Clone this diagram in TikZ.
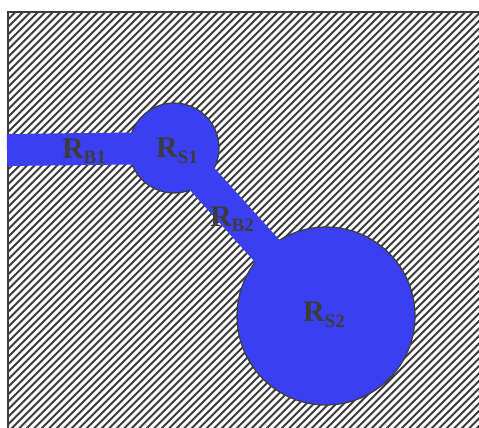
\documentclass[tikz,border=0pt]{standalone}
\usepackage{fontspec}
\setmainfont{Liberation Serif}
\definecolor{bluefill}{RGB}{58,64,242}
\definecolor{ink}{RGB}{60,60,60}
\tikzset{
  hatch/.style={line width=2.1pt, ink},
  region/.style={circle, fill=bluefill, draw=ink, line width=1.2pt, inner sep=0pt},
  bar/.style={line width=32pt, bluefill, line cap=butt},
  lbl/.style={text=ink, inner sep=0pt, font=\fontsize{30}{32}\selectfont\bfseries}
}
\newcommand{\rlab}[1]{R\raisebox{-0.4ex}{\fontsize{19}{21}\selectfont #1}}
\begin{document}
\begin{tikzpicture}[x=1pt,y=-1pt]
\useasboundingbox (0,0) rectangle (479,428);
\fill[white] (0,0) rectangle (479,428);
\begin{scope}
  \clip (8,12) rectangle (479,428);
  \foreach \k in {-450,-442.5,...,490} {
    \draw[hatch] (\k,440) -- ({\k+452},-12);
  }
\end{scope}
\draw[ink, line width=2pt] (8,428) -- (8,12) -- (479,12);
% regions
\node[region, minimum size=90pt] (s1) at (174,148) {};
\node[region, minimum size=178pt] (s2) at (326,316) {};
\coordinate (b1start) at (7,150);
\draw[bar] (b1start) -- (s1.center);
\draw[bar, line width=33pt] (s1.center) -- (s2.center);
% labels
\node[lbl] (lb1) at (84,151) {\rlab{B1}};
\node[lbl] (ls1) at (177,151) {\rlab{S1}};
\node[lbl] (lb2) at (232,219) {\rlab{B2}};
\node[lbl] (ls2) at (324,315) {\rlab{S2}};
\end{tikzpicture}
\end{document}
